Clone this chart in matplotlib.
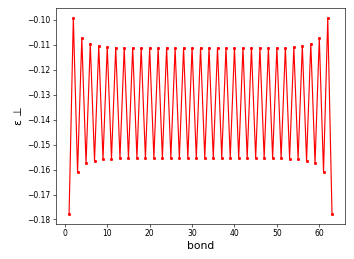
import numpy as np
import matplotlib
matplotlib.use("Agg")
import matplotlib.pyplot as plt

# energia por enlace, cadena de 63 enlaces (simetrica)
bond = np.arange(1, 64)
impares = [-0.1779, -0.1609, -0.1575, -0.1564, -0.1559, -0.1556, -0.1555, -0.1554,
           -0.1554, -0.1554, -0.1554, -0.1554, -0.1554, -0.1554, -0.1554, -0.1554]
pares = [-0.0993, -0.1073, -0.1095, -0.1104, -0.1109, -0.1111, -0.1112, -0.1112,
         -0.1112, -0.1112, -0.1112, -0.1112, -0.1112, -0.1112, -0.1112, -0.1112]

# impares: 32 valores (simetricos), pares: 31 valores
lo = impares + impares[::-1]
hi = pares + pares[:-1][::-1]
eps = np.empty(63)
eps[0::2] = lo
eps[1::2] = hi

dpi = 354 / 6.4
fig = plt.figure(figsize=(6.4, 259 / dpi), dpi=dpi)
ax = fig.add_axes([0.158, 0.135, 0.817, 0.833])
ax.plot(bond, eps, "r.-")
ax.set_xlabel("bond", fontsize=14)
ax.set_ylabel("ε ⊥", fontsize=14)
fig.savefig("out.png", dpi=dpi)
